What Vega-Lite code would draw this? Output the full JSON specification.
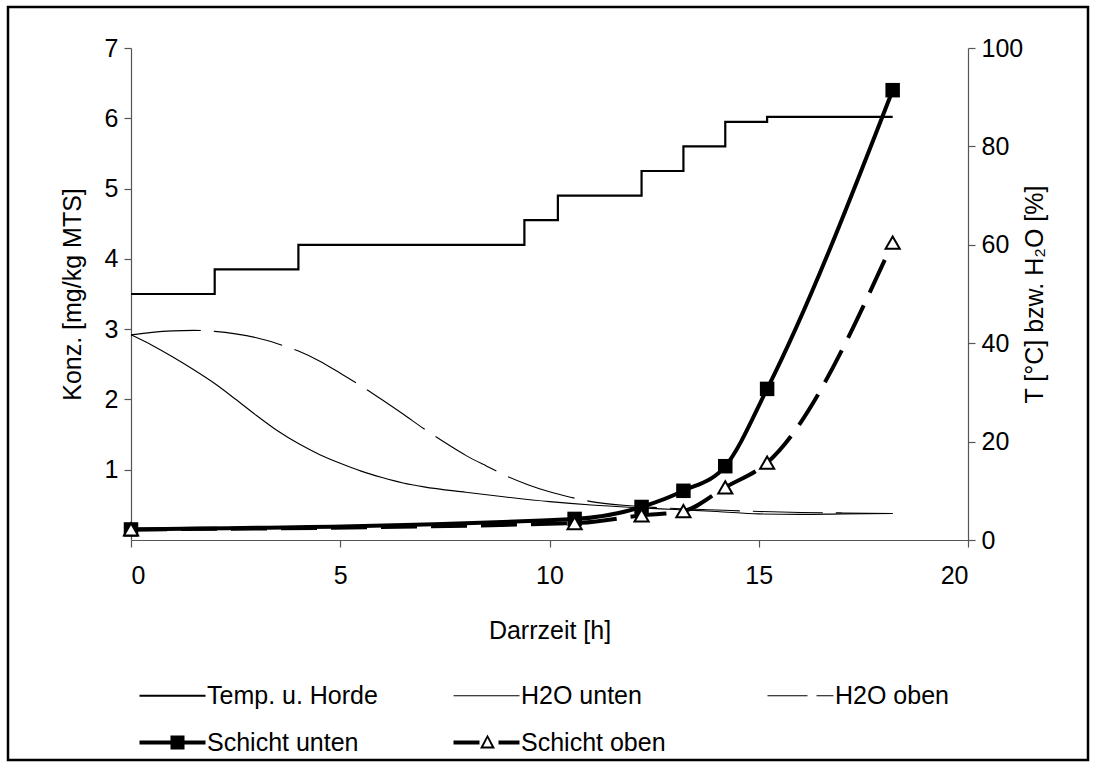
{
  "$schema": "https://vega.github.io/schema/vega-lite/v6.json",
  "width": 1080,
  "height": 753,
  "autosize": {"type": "none"},
  "padding": {"left": 8, "top": 7, "right": 8, "bottom": 7},
  "background": "white",
  "config": {
    "view": {"stroke": "black", "strokeWidth": 2.5},
    "font": "Liberation Sans",
    "axis": {
      "labelFont": "Liberation Sans",
      "titleFont": "Liberation Sans",
      "labelFontSize": 25,
      "titleFontSize": 25,
      "titleFontWeight": "normal",
      "labelColor": "black",
      "titleColor": "black",
      "domainColor": "#555",
      "tickColor": "#555",
      "domainWidth": 1.2,
      "tickWidth": 1.2,
      "tickSize": 7,
      "grid": false
    },
    "legend": {
      "labelFont": "Liberation Sans",
      "labelFontSize": 25,
      "labelColor": "black"
    }
  },
  "data": {
    "values": [
      {"s": "Temp. u. Horde", "t": 0, "v": 50},
      {"s": "Temp. u. Horde", "t": 2, "v": 55},
      {"s": "Temp. u. Horde", "t": 4, "v": 60},
      {"s": "Temp. u. Horde", "t": 9.4, "v": 65},
      {"s": "Temp. u. Horde", "t": 10.2, "v": 70},
      {"s": "Temp. u. Horde", "t": 12.2, "v": 75},
      {"s": "Temp. u. Horde", "t": 13.2, "v": 80},
      {"s": "Temp. u. Horde", "t": 14.2, "v": 85},
      {"s": "Temp. u. Horde", "t": 15.2, "v": 86},
      {"s": "Temp. u. Horde", "t": 18.2, "v": 86},

      {"s": "H2O unten", "t": 0, "v": 41.7},
      {"s": "H2O unten", "t": 0.5, "v": 39.6},
      {"s": "H2O unten", "t": 1, "v": 37.2},
      {"s": "H2O unten", "t": 1.5, "v": 34.6},
      {"s": "H2O unten", "t": 2, "v": 31.8},
      {"s": "H2O unten", "t": 2.5, "v": 28.6},
      {"s": "H2O unten", "t": 3, "v": 25.3},
      {"s": "H2O unten", "t": 3.5, "v": 22.2},
      {"s": "H2O unten", "t": 4, "v": 19.6},
      {"s": "H2O unten", "t": 4.5, "v": 17.4},
      {"s": "H2O unten", "t": 5, "v": 15.6},
      {"s": "H2O unten", "t": 5.5, "v": 14.0},
      {"s": "H2O unten", "t": 6, "v": 12.7},
      {"s": "H2O unten", "t": 6.5, "v": 11.6},
      {"s": "H2O unten", "t": 7, "v": 10.8},
      {"s": "H2O unten", "t": 8, "v": 9.7},
      {"s": "H2O unten", "t": 9, "v": 8.7},
      {"s": "H2O unten", "t": 10, "v": 7.8},
      {"s": "H2O unten", "t": 11, "v": 7.1},
      {"s": "H2O unten", "t": 12, "v": 6.6},
      {"s": "H2O unten", "t": 13, "v": 6.2},
      {"s": "H2O unten", "t": 14, "v": 5.8},
      {"s": "H2O unten", "t": 15, "v": 5.3},
      {"s": "H2O unten", "t": 16, "v": 5.2},
      {"s": "H2O unten", "t": 17, "v": 5.3},
      {"s": "H2O unten", "t": 18.2, "v": 5.4},

      {"s": "H2O oben", "t": 0, "v": 41.7},
      {"s": "H2O oben", "t": 0.5, "v": 42.2},
      {"s": "H2O oben", "t": 1, "v": 42.5},
      {"s": "H2O oben", "t": 1.5, "v": 42.6},
      {"s": "H2O oben", "t": 2, "v": 42.4},
      {"s": "H2O oben", "t": 2.5, "v": 41.9},
      {"s": "H2O oben", "t": 3, "v": 41.1},
      {"s": "H2O oben", "t": 3.5, "v": 39.9},
      {"s": "H2O oben", "t": 4, "v": 38.4},
      {"s": "H2O oben", "t": 4.5, "v": 36.4},
      {"s": "H2O oben", "t": 5, "v": 33.9},
      {"s": "H2O oben", "t": 5.5, "v": 31.3},
      {"s": "H2O oben", "t": 6, "v": 28.5},
      {"s": "H2O oben", "t": 6.5, "v": 25.6},
      {"s": "H2O oben", "t": 7, "v": 22.6},
      {"s": "H2O oben", "t": 7.5, "v": 19.8},
      {"s": "H2O oben", "t": 8, "v": 17.2},
      {"s": "H2O oben", "t": 8.5, "v": 15.0},
      {"s": "H2O oben", "t": 9, "v": 12.9},
      {"s": "H2O oben", "t": 9.5, "v": 11.2},
      {"s": "H2O oben", "t": 10, "v": 9.8},
      {"s": "H2O oben", "t": 10.5, "v": 8.7},
      {"s": "H2O oben", "t": 11, "v": 7.8},
      {"s": "H2O oben", "t": 12, "v": 6.9},
      {"s": "H2O oben", "t": 13, "v": 6.4},
      {"s": "H2O oben", "t": 14, "v": 6.1},
      {"s": "H2O oben", "t": 15, "v": 5.8},
      {"s": "H2O oben", "t": 16, "v": 5.6},
      {"s": "H2O oben", "t": 17, "v": 5.5},
      {"s": "H2O oben", "t": 18.2, "v": 5.4},

      {"s": "Schicht unten", "t": 0, "v": 0.15},
      {"s": "Schicht unten", "t": 10.6, "v": 0.3},
      {"s": "Schicht unten", "t": 12.2, "v": 0.47},
      {"s": "Schicht unten", "t": 13.2, "v": 0.7},
      {"s": "Schicht unten", "t": 14.2, "v": 1.05},
      {"s": "Schicht unten", "t": 15.2, "v": 2.15},
      {"s": "Schicht unten", "t": 18.2, "v": 6.4},

      {"s": "Schicht oben", "t": 0, "v": 0.15},
      {"s": "Schicht oben", "t": 10.6, "v": 0.24},
      {"s": "Schicht oben", "t": 12.2, "v": 0.35},
      {"s": "Schicht oben", "t": 13.2, "v": 0.41},
      {"s": "Schicht oben", "t": 14.2, "v": 0.75},
      {"s": "Schicht oben", "t": 15.2, "v": 1.1},
      {"s": "Schicht oben", "t": 18.2, "v": 4.23}
    ]
  },
  "layer": [
    {
      "encoding": {
        "x": {
          "field": "t", "type": "quantitative",
          "scale": {"domain": [0, 20], "range": [123, 960], "nice": false, "zero": false},
          "axis": {"orient": "bottom", "offset": -220, "values": [0, 5, 10, 15, 20], "title": "Darrzeit [h]", "labelPadding": 16, "titlePadding": 30}
        },
        "y": {
          "field": "v", "type": "quantitative",
          "scale": {"domain": [0, 100], "range": [533, 41], "nice": false, "zero": false},
          "axis": {"orient": "right", "offset": -120, "values": [0, 20, 40, 60, 80, 100], "title": "T [°C] bzw. H₂O [%]", "titleAngle": 270, "titleBaseline": "bottom", "labelPadding": 6, "titlePadding": 25}
        }
      },
      "layer": [
        {
          "transform": [{"filter": "datum.s === 'Temp. u. Horde'"}],
          "mark": {"type": "line", "interpolate": "step-after", "strokeWidth": 2.2},
          "encoding": {
            "color": {
              "field": "s", "type": "nominal",
              "scale": {"domain": ["Temp. u. Horde", "H2O unten", "H2O oben", "Schicht unten", "Schicht oben"], "range": ["black", "black", "black", "black", "black"]},
              "legend": {
                "title": null, "orient": "none", "legendX": 129, "legendY": 676, "direction": "horizontal", "columns": 3,
                "gridAlign": "all", "columnPadding": 73, "rowPadding": 21, "padding": 0,
                "symbolSize": 400, "symbolType": "stroke", "labelOffset": 45, "labelLimit": 400,
                "encode": {
                  "symbols": {
                    "update": {
                      "shape": {"signal": "datum.value === 'Schicht unten' ? 'M-1,-0.2H5.6V0.2H-1Z M2.1,-0.7H3.5V0.7H2.1Z' : datum.value === 'Schicht oben' ? 'M-1,-0.2H1.6V0.2H-1Z M3.5,-0.2H5.6V0.2H3.5Z M2.4,-0.8L3.15,0.6L1.65,0.6Z M2.4,-0.42L1.98,0.4L2.82,0.4Z' : 'M-1,0H5.6'"},
                      "size": {"value": 400},
                      "fill": {"signal": "indexof(['Schicht unten','Schicht oben'], datum.value) >= 0 ? 'black' : 'transparent'"},
                      "stroke": {"signal": "indexof(['Schicht unten','Schicht oben'], datum.value) >= 0 ? 'transparent' : 'black'"},
                      "strokeWidth": {"signal": "datum.value === 'Temp. u. Horde' ? 2.2 : (indexof(['Schicht unten','Schicht oben'], datum.value) >= 0 ? 0 : 1.1)"},
                      "strokeDash": {"signal": "datum.value === 'H2O oben' ? [40, 9] : [1, 0]"},
                      "opacity": {"value": 1}
                    }
                  }
                }
              }
            }
          }
        },
        {
          "transform": [{"filter": "datum.s === 'H2O unten'"}],
          "mark": {"type": "line", "interpolate": "monotone", "strokeWidth": 1.1},
          "encoding": {"color": {"field": "s", "type": "nominal"}}
        },
        {
          "transform": [{"filter": "datum.s === 'H2O oben'"}],
          "mark": {"type": "line", "interpolate": "monotone", "strokeWidth": 1.1, "strokeDash": [70, 13]},
          "encoding": {"color": {"field": "s", "type": "nominal"}}
        }
      ]
    },
    {
      "encoding": {
        "x": {
          "field": "t", "type": "quantitative",
          "scale": {"domain": [0, 20], "range": [123, 960], "nice": false, "zero": false},
          "axis": {"orient": "bottom", "offset": -220, "values": [0, 5, 10, 15, 20], "title": "Darrzeit [h]", "labelPadding": 16, "titlePadding": 30}
        },
        "y": {
          "field": "v", "type": "quantitative",
          "scale": {"domain": [0, 7], "range": [533, 41], "nice": false, "zero": false},
          "axis": {"orient": "left", "offset": -123, "values": [1, 2, 3, 4, 5, 6, 7], "title": "Konz. [mg/kg MTS]", "labelPadding": 6, "titlePadding": 19}
        }
      },
      "layer": [
        {
          "transform": [{"filter": "datum.s === 'Schicht unten'"}],
          "mark": {"type": "line", "interpolate": "monotone", "strokeWidth": 4},
          "encoding": {"color": {"field": "s", "type": "nominal"}}
        },
        {
          "transform": [{"filter": "datum.s === 'Schicht oben'"}],
          "mark": {"type": "line", "interpolate": "monotone", "strokeWidth": 4, "strokeDash": [36, 14]},
          "encoding": {"color": {"field": "s", "type": "nominal"}}
        },
        {
          "transform": [{"filter": "datum.s === 'Schicht unten'"}],
          "mark": {"type": "point", "shape": "square", "filled": true, "fill": "black", "size": 210, "opacity": 1},
          "encoding": {}
        },
        {
          "transform": [{"filter": "datum.s === 'Schicht oben'"}],
          "mark": {"type": "point", "shape": "triangle-up", "filled": true, "fill": "white", "stroke": "black", "strokeWidth": 2, "size": 200, "opacity": 1},
          "encoding": {}
        }
      ]
    }
  ],
  "resolve": {"scale": {"y": "independent"}, "axis": {"y": "independent"}}
}
